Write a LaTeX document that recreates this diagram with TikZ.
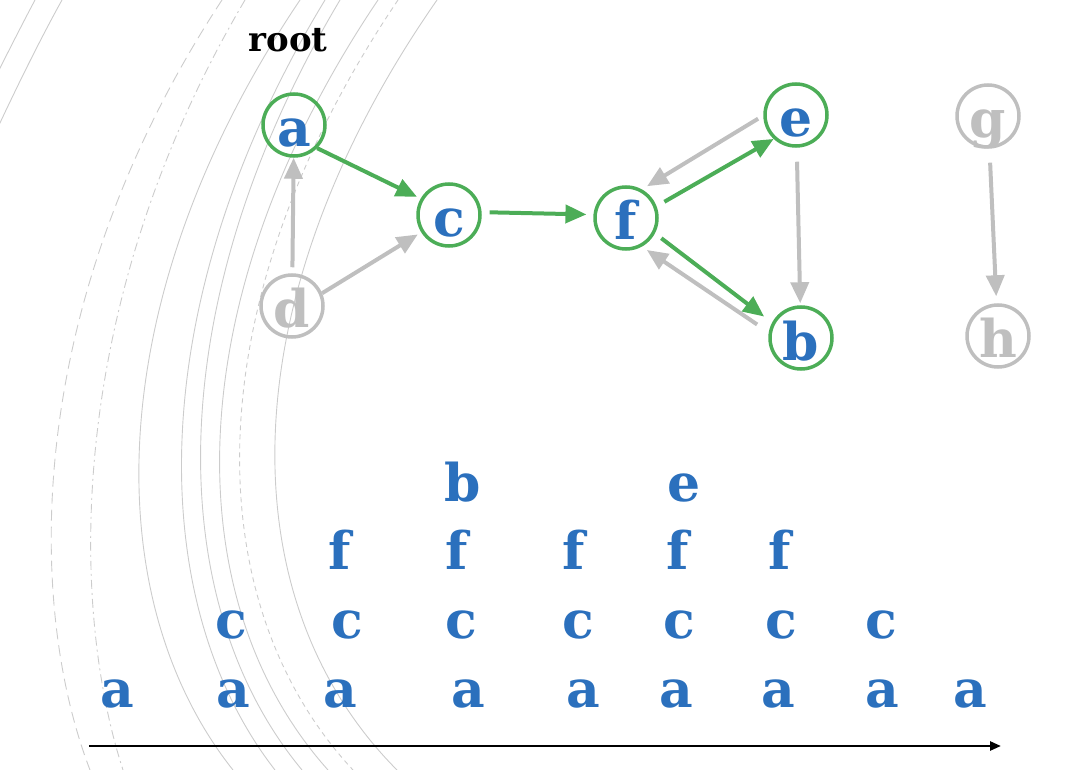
\documentclass[tikz,border=0pt]{standalone}
\usepackage{fontspec}
\usepackage{tikz}
\usetikzlibrary{arrows.meta,calc}
\newfontfamily\letterfont{DejaVu Serif}

\begin{document}
\begin{tikzpicture}[x=1pt,y=-1pt,
  vtx/.style={circle,draw=gLive,line width=3.5pt,minimum size=62pt,inner sep=0pt,
    text=gBlue,font=\letterfont\bfseries\fontsize{52}{52}\selectfont,
    text height=44pt,text depth=0pt},
  idle/.style={vtx,draw=gIdle,text=gIdle},
  live/.style={draw=gLive,line width=4pt,-{Triangle[length=21pt,width=18pt]}},
  dead/.style={draw=gIdle,line width=4pt,-{Triangle[length=21pt,width=18pt]}},
  slot/.style={anchor=base,inner sep=0pt,text=gBlue,
    font=\letterfont\bfseries\fontsize{52}{52}\selectfont},
  ring/.style={gArc,line width=0.9pt}]
\definecolor{gBlue}{rgb}{0.17,0.44,0.74}
\definecolor{gLive}{rgb}{0.30,0.68,0.34}
\definecolor{gIdle}{rgb}{0.75,0.75,0.75}
\definecolor{gArc}{rgb}{0.80,0.80,0.80}
\useasboundingbox (0,0) rectangle (1072,770);

% ripples behind the graph
\begin{scope}
\clip (0,0) rectangle (1072,770);
\draw[ring] (35,0) .. controls (18,32) and (0,68) .. (-25,118);
\draw[ring] (62,0) .. controls (42,36) and (18,84) .. (-8,140);
\draw[ring,dash pattern=on 11pt off 6pt] (222,0) .. controls (25,300) and (25,600) .. (90,770);
\draw[ring,dash pattern=on 9pt off 4pt on 2pt off 4pt] (245,0) .. controls (68,300) and (68,600) .. (123,770);
\draw[ring] (300,0) .. controls (98,300) and (98,600) .. (233,770);
\draw[ring] (325,0) .. controls (143,300) and (143,600) .. (275,770);
\draw[ring] (340,0) .. controls (161,300) and (161,600) .. (302,770);
\draw[ring] (378,0) .. controls (176,300) and (176,600) .. (328,770);
\draw[ring,dash pattern=on 5pt off 4pt] (398,0) .. controls (195,300) and (195,600) .. (353,770);
\draw[ring] (437,0) .. controls (228,300) and (228,600) .. (397,770);
\end{scope}

% graph
\node[anchor=base,inner sep=0pt,font=\letterfont\bfseries\fontsize{34}{34}\selectfont] (root) at (288,52) {root};
\node[vtx] (a) at (294,125) {a};
\node[vtx] (c) at (449,215) {c};
\node[vtx] (f) at (626,218) {f};
\node[vtx] (e) at (796,115) {e};
\node[vtx] (b) at (801,338) {b};
\node[idle] (d) at (292,306) {d};
\node[idle] (g) at (988,116) {g};
\node[idle] (h) at (998,336) {h};

\draw[dead,shorten <=6pt] (d) -- (a);
\draw[dead,shorten >=4pt] (d.23) -- (c.212);
\draw[dead,shorten <=6pt,shorten >=6pt] (e.181) -- (f.61);
\draw[dead,shorten <=14pt,shorten >=6pt] (b.170) -- (f.-61);
\draw[dead,shorten <=14pt,shorten >=2pt] (e) -- (b);
\draw[dead,shorten <=14pt,shorten >=7pt] (g) -- (h);
\draw[live,shorten >=4pt] (a.-45) -- (c.150);
\draw[live,shorten <=8pt,shorten >=7pt] (c.5) -- (f.174);
\draw[live,shorten <=9pt] (f.21) -- (e.227);
\draw[live,shorten <=8pt,shorten >=10pt] (f.-28) -- (b.152);

% stack over time
\node[slot] (a1) at (117,707) {a};
\node[slot] (a2) at (233,707) {a};
\node[slot] (c2) at (231,638) {c};
\node[slot] (a3) at (340,707) {a};
\node[slot] (c3) at (347,638) {c};
\node[slot] (f3) at (340,569) {f};
\node[slot] (a4) at (468,707) {a};
\node[slot] (c4) at (461,638) {c};
\node[slot] (f4) at (457,569) {f};
\node[slot] (b4) at (463,501) {b};
\node[slot] (a5) at (583,707) {a};
\node[slot] (c5) at (578,638) {c};
\node[slot] (f5) at (574,569) {f};
\node[slot] (a6) at (676,707) {a};
\node[slot] (c6) at (679,638) {c};
\node[slot] (f6) at (678,569) {f};
\node[slot] (e6) at (684,501) {e};
\node[slot] (a7) at (778,707) {a};
\node[slot] (c7) at (781,638) {c};
\node[slot] (f7) at (780,569) {f};
\node[slot] (a8) at (882,707) {a};
\node[slot] (c8) at (881,638) {c};
\node[slot] (a9) at (970,707) {a};

\coordinate (t0) at (89,746);
\coordinate (t1) at (1001,746);
\draw[line width=2.5pt,-{Triangle[length=11pt,width=9pt]}] (t0) -- (t1);
\end{tikzpicture}
\end{document}
